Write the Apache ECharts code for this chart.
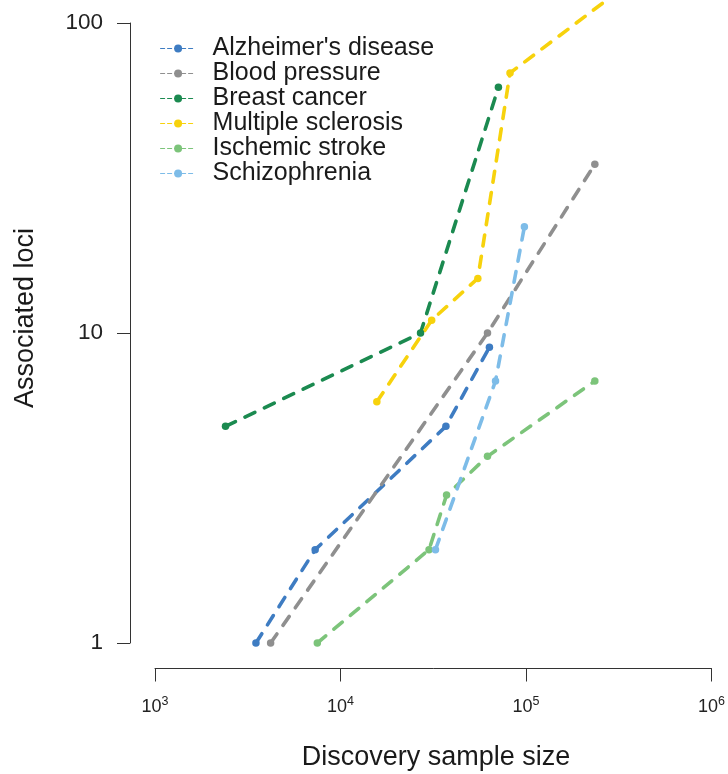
<!DOCTYPE html>
<html>
<head>
<meta charset="utf-8">
<script src="https://cdn.jsdelivr.net/npm/echarts@6/dist/echarts.min.js"></script>
<style>
  html, body { margin: 0; padding: 0; background: #fff; }
  #chart { width: 728px; height: 774px; }
</style>
</head>
<body>
<div id="chart"></div>
<script>
// 各研究: 样本量 (x) 与 关联位点数 (y)
const names = ["Alzheimer's disease", 'Blood pressure', 'Breast cancer', 'Multiple sclerosis', 'Ischemic stroke', 'Schizophrenia'];
const colors = ['#3E7CC2', '#8F8F8F', '#1B8A50', '#F7D20C', '#7CC47A', '#7DBCE8'];

const alzX = [3500, 7300, 37000, 63500];
const alzY = [1, 2, 5, 9];
const bpX = [4200, 62000, 235000];
const bpY = [1, 10, 35];
const brcX = [2400, 27000, 71000];
const brcY = [5, 10, 62];
const msX = [15700, 31000, 55000, 82000, 290000];
const msY = [6, 11, 15, 69, 122];
const strokeX = [7500, 30000, 37300, 62000, 235000];
const strokeY = [1, 2, 3, 4, 7];
const sczX = [32500, 68500, 98000];
const sczY = [2, 7, 22];

const xs = [alzX, bpX, brcX, msX, strokeX, sczX];
const ys = [alzY, bpY, brcY, msY, strokeY, sczY];

const FONT = "'Liberation Sans', Arial, sans-serif";

function zip(a, b) {
  return a.map((v, i) => [v, b[i]]);
}

const series = names.map((n, i) => ({
  name: n,
  type: 'line',
  data: zip(xs[i], ys[i]),
  color: colors[i],
  symbol: 'circle',
  symbolSize: 7.5,
  showAllSymbol: true,
  clip: false,
  lineStyle: { width: 3.6, type: [11, 10.5], cap: 'round' },
  itemStyle: { color: colors[i] },
  emphasis: { disabled: true }
}));

const chart = echarts.init(document.getElementById('chart'));
const option = {
  animation: false,
  textStyle: { fontFamily: FONT },
  grid: { left: 155, right: 14, top: 23, bottom: 131 },
  legend: {
    orient: 'vertical',
    left: 160,
    top: 36,
    padding: 0,
    itemGap: 0,
    itemWidth: 35,
    itemHeight: 10,
    data: names,
    lineStyle: { width: 1.2, type: [4, 3] },
    textStyle: { fontSize: 25, color: '#1a1a1a', lineHeight: 24.6, padding: [0, 0, 0, 12], fontFamily: FONT }
  },
  xAxis: {
    type: 'log',
    logBase: 10,
    min: 1000,
    max: 1000000,
    offset: 25.5,
    axisLine: { lineStyle: { color: '#333', width: 1 } },
    axisTick: { length: 13, lineStyle: { color: '#333' } },
    splitLine: { show: false },
    axisLabel: {
      margin: 27,
      formatter: function (v) {
        return '{b|10}{s|' + Math.round(Math.log10(v)) + '}';
      },
      rich: {
        b: { fontSize: 18, lineHeight: 21, color: '#222', verticalAlign: 'bottom', fontFamily: FONT },
        s: { fontSize: 12.5, lineHeight: 13, padding: [0, 0, 8, 0], color: '#222', verticalAlign: 'bottom', fontFamily: FONT }
      }
    }
  },
  yAxis: {
    type: 'log',
    logBase: 10,
    min: 1,
    max: 100,
    offset: 25,
    axisLine: { show: true, lineStyle: { color: '#333', width: 1 } },
    axisTick: { show: true, length: 13, lineStyle: { color: '#333' } },
    splitLine: { show: false },
    axisLabel: { margin: 27, fontSize: 22.5, color: '#222', fontFamily: FONT }
  },
  graphic: [
    {
      type: 'text',
      x: 25.5, y: 318,
      rotation: Math.PI / 2,
      style: { text: 'Associated loci', fontSize: 27, fill: '#1a1a1a', align: 'center', verticalAlign: 'middle', fontFamily: FONT }
    },
    {
      type: 'text',
      x: 436, y: 758,
      style: { text: 'Discovery sample size', fontSize: 27, fill: '#1a1a1a', align: 'center', verticalAlign: 'middle', fontFamily: FONT }
    }
  ],
  series: series
};
chart.setOption(option);
</script>
</body>
</html>
